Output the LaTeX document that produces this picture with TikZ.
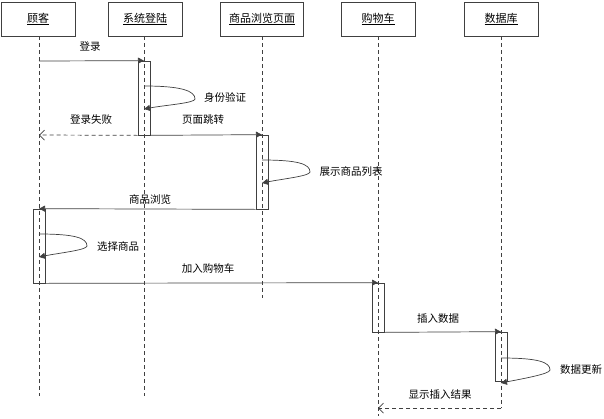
\documentclass[tikz,border=0pt]{standalone}
\usepackage{fontspec}
\newfontfamily\cjk{Noto Sans CJK SC}
\usetikzlibrary{arrows.meta}
\begin{document}
\begin{tikzpicture}[x=1pt,y=-1pt,
  every node/.style={font=\cjk\fontsize{10.5}{12}\selectfont, inner sep=0pt},
  head/.style={draw=black!75, line width=0.7pt, minimum height=34pt, minimum width=74pt, font=\cjk\fontsize{11}{13}\selectfont},
  act/.style={draw=black!75, line width=0.7pt, minimum width=12pt},
  life/.style={draw=black!75, line width=0.7pt, dash pattern=on 4pt off 3pt},
  msg/.style={draw=black!75, line width=0.7pt, -{Triangle[length=6pt,width=6pt]}},
  ret/.style={draw=black!75, line width=0.7pt, dash pattern=on 4pt off 3pt, -{Straight Barb[length=5pt,width=10pt]}},
  lbl/.style={}
]
\useasboundingbox (0,0) rectangle (604,418);
% heads
\node[head] (h1) at (38,19) {\underline{顾客}};
\node[head] (h2) at (145,19) {\underline{系统登陆}};
\node[head, minimum width=83pt] (h3) at (262,19) {\underline{商品浏览页面}};
\node[head] (h4) at (378,19) {\underline{购物车}};
\node[head] (h5) at (501,19) {\underline{数据库}};
% lifeline ends
\coordinate (l1) at (39,396);
\coordinate (l2) at (144,396);
\coordinate (l3) at (262,298);
\coordinate (l4) at (378,416);
\coordinate (l5) at (501,408);
\draw[life] (l1 |- h1.south) -- (l1);
\draw[life] (l2 |- h2.south) -- (l2);
\draw[life] (l3 |- h3.south) -- (l3);
\draw[life] (l4 |- h4.south) -- (l4);
\draw[life] (l5 |- h5.south) -- (l5);
% activations
\node[act, minimum height=74pt] (a1) at (144,98) {};
\node[act, minimum height=74pt] (a2) at (262,172) {};
\node[act, minimum height=74pt] (a3) at (39,246) {};
\node[act, minimum height=49pt] (a4) at (378,307.5) {};
\node[act, minimum height=49pt] (a5) at (501,356.5) {};
% messages
\coordinate (m1) at (39,61);
\draw[msg] (m1) -- (a1.north);
\node[lbl] (t1) at (90,47) {登录};

\coordinate (s1a) at (144,86);
\coordinate (s1p) at (195,99);
\coordinate (s1b) at (144,109);
\draw[msg] (s1a) .. controls +(38,0) and +(0,-8) .. (s1p) .. controls +(0,4) and +(22,-4) .. (s1b);
\node[lbl] (t2) at (225,98) {身份验证};

\coordinate (r1) at (39,135);
\draw[ret] (a1.south west) -- (r1);
\node[lbl] (t3) at (91,120) {登录失败};

\draw[msg] (a1.south east) -- (a2.north);
\node[lbl] (t4) at (203,120) {页面跳转};

\coordinate (s2a) at (262,160);
\coordinate (s2p) at (310,172);
\coordinate (s2b) at (262,183);
\draw[msg] (s2a) .. controls +(36,0) and +(0,-8) .. (s2p) .. controls +(0,4) and +(20,-4) .. (s2b);
\node[lbl] (t5) at (351,172) {展示商品列表};

\draw[msg] (a2.south west) -- (a3.north);
\node[lbl] (t6) at (150,199) {商品浏览};

\coordinate (s3a) at (39,234);
\coordinate (s3p) at (87,246);
\coordinate (s3b) at (39,257);
\draw[msg] (s3a) .. controls +(36,0) and +(0,-8) .. (s3p) .. controls +(0,4) and +(20,-4) .. (s3b);
\node[lbl] (t7) at (118,246) {选择商品};

\draw[msg] (a3.south east) -- (a4.north);
\node[lbl] (t8) at (208,268) {加入购物车};

\draw[msg] (a4.south east) -- (a5.north);
\node[lbl] (t9) at (438,319) {插入数据};

\coordinate (s4a) at (501,358);
\coordinate (s4p) at (550,370);
\coordinate (s4b) at (501,383);
\draw[msg] (s4a) .. controls +(37,0) and +(0,-8) .. (s4p) .. controls +(0,4) and +(20,-4) .. (s4b);
\node[lbl] (t10) at (581,369) {数据更新};

\coordinate (r2) at (378,408);
\draw[ret] (l5) -- (r2);
\node[lbl] (t11) at (440,395) {显示插入结果};
\end{tikzpicture}
\end{document}
